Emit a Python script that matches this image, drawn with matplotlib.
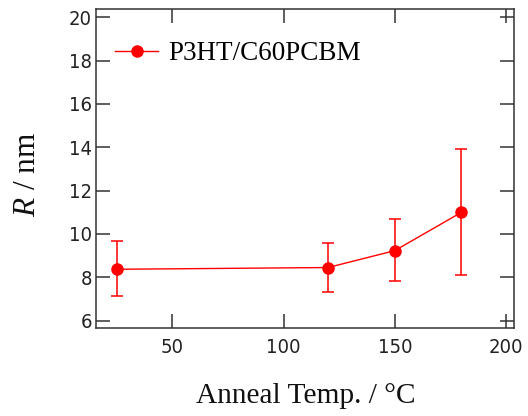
import matplotlib
matplotlib.use("Agg")
import matplotlib.pyplot as plt

# Data
temps = [25, 120, 150, 180]
radius = [8.37, 8.45, 9.23, 11.0]
err_upper = [9.69, 9.60, 10.68, 13.92]
err_lower = [7.12, 7.31, 7.85, 8.11]
series_label = "P3HT/C60PCBM"
xticks = [50, 100, 150, 200]
yticks = [6, 8, 10, 12, 14, 16, 18, 20]

plt.rcParams['mathtext.fontset'] = 'custom'
plt.rcParams['mathtext.rm'] = 'Liberation Serif'
plt.rcParams['mathtext.it'] = 'Liberation Serif:italic'

red = '#ff0000'
dark = '#333333'

fig = plt.figure(figsize=(5.28, 4.16), dpi=100)
ax = fig.add_axes([96/528, 1-328/416, 418/528, 319/416])

yerr = [[r - lo for r, lo in zip(radius, err_lower)],
        [hi - r for r, hi in zip(radius, err_upper)]]
ax.errorbar(temps, radius, yerr=yerr, fmt='none', ecolor=red,
            elinewidth=1.1, capsize=4.2, capthick=1.1, zorder=2)
ax.plot(temps, radius, color=red, lw=1.0, marker='o', ms=8,
        markeredgecolor=red, markerfacecolor=red, zorder=3, label=series_label)

ax.set_xlim(15.7, 203.6)
ax.set_ylim(5.66, 20.38)
ax.set_xticks(xticks)
ax.set_yticks(yticks)

for lab in ax.get_xticklabels() + ax.get_yticklabels():
    lab.set_family('DejaVu Sans')
    lab.set_stretch('condensed')
    lab.set_fontsize(14.5)
    lab.set_color('#222222')

ax.tick_params(axis='both', direction='in', length=10, width=1.1,
               color=dark, top=True, right=True)
ax.tick_params(axis='x', pad=7)
ax.tick_params(axis='y', pad=3)
for sp in ax.spines.values():
    sp.set_color(dark)
    sp.set_linewidth(1.1)

leg = ax.legend(loc='center left', bbox_to_anchor=(0.0455, 0.859),
                frameon=False, handlelength=1.6, handletextpad=0.37,
                borderpad=0, borderaxespad=0,
                prop={'family': 'Liberation Serif', 'size': 19.5})

fig.text(305.5/528, 1-403/416, "Anneal Temp. / °C", family='Liberation Serif',
         fontsize=21.2, ha='center', va='baseline', color='#111111')
fig.text(35/528, 1-174.5/416, r"$R$ / nm", family='Liberation Serif',
         fontsize=22.5, ha='center', va='baseline', rotation=90,
         rotation_mode='anchor', color='#111111')

fig.savefig("out.png", dpi=100)
